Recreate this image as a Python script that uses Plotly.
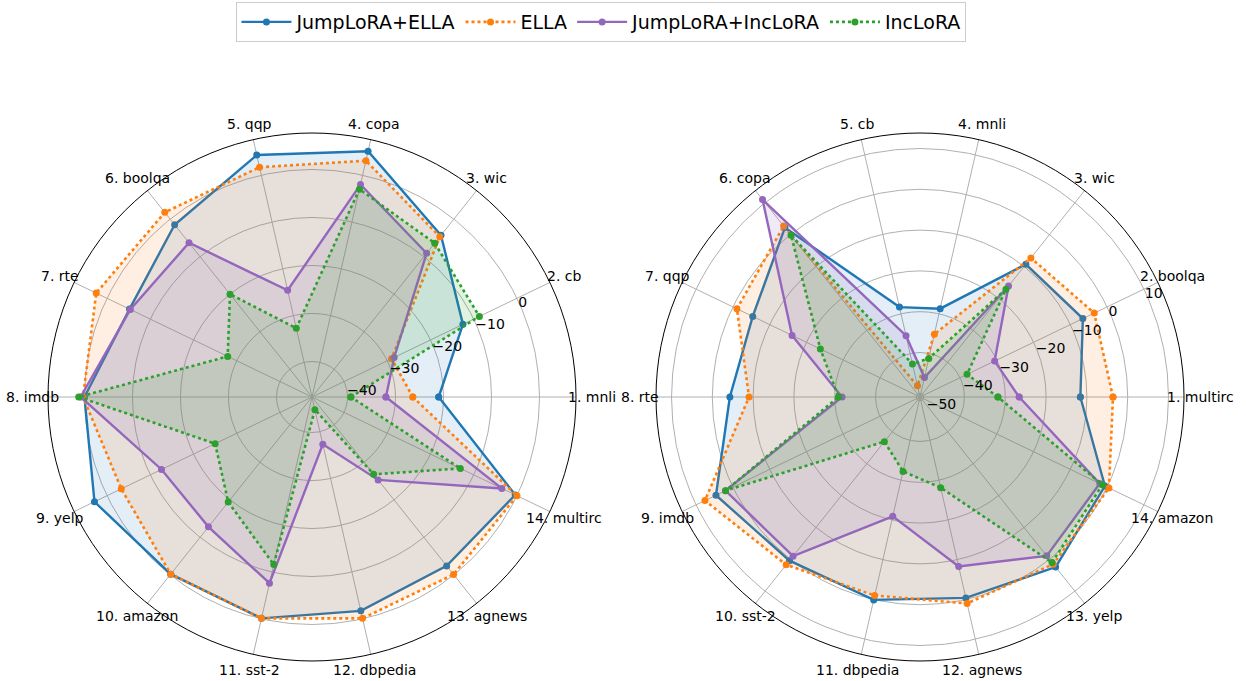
import math
import plotly.graph_objects as go

# ---------------- data ----------------
cats_left = ["1. mnli", "2. cb", "3. wic", "4. copa", "5. qqp", "6. boolqa", "7. rte",
             "8. imdb", "9. yelp", "10. amazon", "11. sst-2", "12. dbpedia", "13. agnews", "14. multirc"]
left_jump_ella = [-21.0, -12.5, -4.3, 5.1, 4.3, -1.5, -5.2, 0.0, 2.9, -0.2, -0.1, -1.7, -2.4, -0.4]
left_ella = [-26.4, -29.0, -4.7, 3.1, 1.7, 1.8, 2.5, 0.3, -3.3, -0.2, -0.1, -0.1, -0.1, 0.0]
left_jump_inc = [-32.0, -28.4, -9.1, -2.0, -24.6, -6.3, -5.4, 0.8, -12.6, -12.8, -7.6, -37.3, -25.3, -3.5]
left_inc = [-39.3, -8.7, -6.4, -3.0, -32.7, -20.0, -27.9, 1.2, -25.0, -19.4, -11.6, -44.7, -26.8, -13.1]

cats_right = ["1. multirc", "2. boolqa", "3. wic", "4. mnli", "5. cb", "6. copa", "7. qqp",
              "8. rte", "9. imdb", "10. sst-2", "11. dbpedia", "12. agnews", "13. yelp", "14. amazon"]
right_jump_ella = [-11.6, -6.6, -9.3, -28.7, -28.3, 2.2, -5.4, -4.3, 4.6, 0.4, 0.1, -0.4, 2.4, -0.6]
right_ella = [-3.6, -3.5, -7.3, -35.1, -48.1, 2.7, -1.1, -9.0, 7.6, 1.7, -1.0, 1.0, 1.5, 0.5]
right_jump_inc = [-26.6, -30.6, -16.1, -46.0, -35.5, 11.0, -16.1, -31.8, 2.0, -1.0, -20.9, -8.3, -1.1, -2.0]
right_inc = [-31.8, -38.1, -17.1, -41.2, -42.6, -0.2, -23.8, -30.9, 2.0, -36.9, -32.2, -28.1, 1.0, -1.3]

series_names = ["JumpLoRA+ELLA", "ELLA", "JumpLoRA+IncLoRA", "IncLoRA"]
left_ticks = [-40, -30, -20, -10, 0]
right_ticks = [-50, -40, -30, -20, -10, 0, 10]

# ---------------- styles ----------------
colors = ["#1f77b4", "#ff7f0e", "#9467bd", "#2ca02c"]
fills = ["rgba(31,119,180,0.12)", "rgba(255,127,14,0.12)", "rgba(148,103,189,0.14)", "rgba(44,160,44,0.14)"]
dashes = ["solid", "dot", "solid", "dot"]


def line_style(i):
    return dict(color=colors[i], width=2.4 if dashes[i] == "solid" else 2.6, dash=dashes[i])


fig = go.Figure()

# legend-only entries (line + marker, no fill swatch)
for i, name in enumerate(series_names):
    fig.add_trace(go.Scatterpolar(
        r=[None], theta=[None], mode="lines+markers", name=name, legendgroup=name,
        showlegend=True, line=line_style(i), marker=dict(color=colors[i], size=7),
        subplot="polar", hoverinfo="skip",
    ))


def add_series(cats, values_list, subplot):
    for i, vals in enumerate(values_list):
        fig.add_trace(go.Scatterpolar(
            r=list(vals) + [vals[0]],
            theta=list(cats) + [cats[0]],
            mode="lines+markers",
            name=series_names[i],
            legendgroup=series_names[i],
            showlegend=False,
            line=line_style(i),
            marker=dict(color=colors[i], size=7),
            fill="toself",
            fillcolor=fills[i],
            subplot=subplot,
        ))


add_series(cats_left, [left_jump_ella, left_ella, left_jump_inc, left_inc], "polar")
add_series(cats_right, [right_jump_ella, right_ella, right_jump_inc, right_inc], "polar2")

W, H = 1246, 681
R = 264          # polar radius in px
LABEL_R = 280    # distance of category labels from centre
CENTERS = [(312, 397), (920, 397)]
RLABEL_ANGLE = 27


def domain(cx, cy):
    return dict(x=[(cx - R) / W, (cx + R) / W], y=[(H - cy - R) / H, (H - cy + R) / H])


def tick_text(vals):
    return [("\u2212" + str(abs(v))) if v < 0 else str(v) for v in vals]


def polar_layout(cats, rng, ticks, cx, cy):
    return dict(
        domain=domain(cx, cy),
        bgcolor="white",
        radialaxis=dict(
            range=rng, tickvals=ticks, ticktext=tick_text(ticks),
            angle=RLABEL_ANGLE, tickangle=RLABEL_ANGLE,
            showline=False, ticks="", gridcolor="#b0b0b0", gridwidth=0.8,
            tickfont=dict(size=14, color="black"),
        ),
        angularaxis=dict(
            type="category", categoryorder="array", categoryarray=cats,
            rotation=0, direction="counterclockwise",
            showline=True, linecolor="black", linewidth=1,
            gridcolor="#b0b0b0", gridwidth=0.8, ticks="", showticklabels=False,
        ),
    )


# category labels, centred like matplotlib's theta labels
annotations = []
for (cx, cy), cats in zip(CENTERS, [cats_left, cats_right]):
    n = len(cats)
    for k, name in enumerate(cats):
        a = 2 * math.pi * k / n
        annotations.append(dict(
            text=name, showarrow=False, xref="paper", yref="paper",
            x=(cx + LABEL_R * math.cos(a)) / W, y=(H - cy + LABEL_R * math.sin(a)) / H,
            xanchor="center", yanchor="middle", font=dict(size=14, color="black"),
        ))

fig.update_layout(
    width=W, height=H,
    margin=dict(l=0, r=0, t=0, b=0),
    paper_bgcolor="white",
    font=dict(family="DejaVu Sans", color="black"),
    polar=polar_layout(cats_left, [-47.4, 7.6], left_ticks, *CENTERS[0]),
    polar2=polar_layout(cats_right, [-50.9, 13.8], right_ticks, *CENTERS[1]),
    annotations=annotations,
    legend=dict(
        orientation="h", x=0.4827, xanchor="center", y=0.997, yanchor="top",
        bordercolor="#cccccc", borderwidth=1, bgcolor="white",
        font=dict(size=19, color="black"), itemwidth=50,
    ),
)

fig.write_html("out.html", config={"displayModeBar": False},
               post_script="document.body.style.margin='0';")
